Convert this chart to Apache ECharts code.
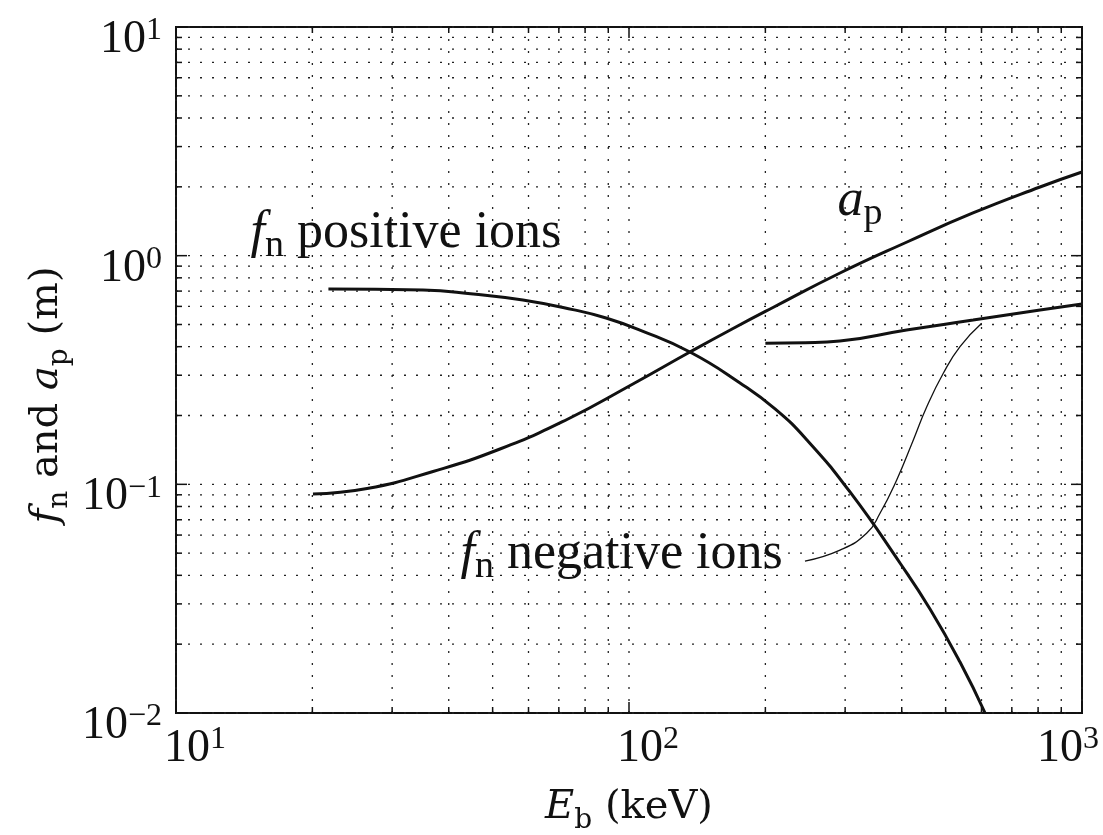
<!DOCTYPE html>
<html>
<head>
<meta charset="utf-8">
<title>f_n and a_p versus E_b</title>
<script src="https://cdn.jsdelivr.net/npm/echarts@6/dist/echarts.min.js"></script>
<style>
  html, body { margin: 0; padding: 0; background: #fff; }
  #chart { width: 1103px; height: 835px; }
</style>
</head>
<body>
<div id="chart"></div>
<script>
// values: beam energy E_b (keV) against f_n / a_p (m)
var posIonsE = [21.7, 35.1, 45.3, 58.3, 75.2, 89.0, 105.7, 136.3, 175.8, 210.1, 247.1, 307.5, 396.4, 461.8, 537.9, 611];
var posIonsF = [0.715, 0.708, 0.680, 0.640, 0.581, 0.534, 0.473, 0.379, 0.2775, 0.2136, 0.1563, 0.0926, 0.0453, 0.0285, 0.0167, 0.01];

var apE = [20.06, 26.41, 36.93, 51.9, 72.97, 102.0, 136.3, 169.7, 207.9, 292.3, 410.9, 574.6, 807.9, 1000];
var apV = [0.0908, 0.0959, 0.1138, 0.1427, 0.1921, 0.2747, 0.3791, 0.4803, 0.5934, 0.8399, 1.1475, 1.537, 1.997, 2.322];

var negIonsE = [200, 245, 292, 410, 575, 808, 1000];
var negIonsF = [0.414, 0.416, 0.423, 0.473, 0.523, 0.579, 0.615];

// thin leader line from the "negative ions" text up to its curve
var leaderE = [244.6, 292.3, 334.6, 358.2, 389.9, 424.3, 454.3, 494.1, 537.9, 600.6];
var leaderV = [0.0462, 0.0516, 0.0611, 0.0747, 0.1045, 0.1563, 0.2185, 0.306, 0.4, 0.506];

// axis ticks (log axes, decades plus 2..9 subdivisions)
var xMajor = [10, 100, 1000];
var xMinor = [20, 30, 40, 50, 60, 70, 80, 90, 200, 300, 400, 500, 600, 700, 800, 900];
var yMajor = [0.01, 0.1, 1, 10];
var yMinor = [0.02, 0.03, 0.04, 0.05, 0.06, 0.07, 0.08, 0.09,
              0.2, 0.3, 0.4, 0.5, 0.6, 0.7, 0.8, 0.9,
              2, 3, 4, 5, 6, 7, 8, 9];

var X_MIN = 10, X_MAX = 1000, Y_MIN = 0.01, Y_MAX = 10;
var SERIF = 'Liberation Serif';
var INK = '#111';

function pairs(xs, ys) {
  return xs.map(function (x, i) { return [x, ys[i]]; });
}

var dotStyle = { stroke: '#222', lineWidth: 1.3, lineDash: [2, 10] };
var tickStyle = { stroke: INK, lineWidth: 1.5 };

// vertical dotted grid lines + inward ticks on bottom/top
function xGrid(len) {
  return function (params, api) {
    var v = api.value(0);
    var b = api.coord([v, Y_MIN]);
    var t = api.coord([v, Y_MAX]);
    return {
      type: 'group',
      children: [
        { type: 'line', shape: { x1: b[0], y1: b[1], x2: t[0], y2: t[1] }, style: dotStyle },
        { type: 'line', shape: { x1: b[0], y1: b[1], x2: b[0], y2: b[1] - len }, style: tickStyle },
        { type: 'line', shape: { x1: t[0], y1: t[1], x2: t[0], y2: t[1] + len }, style: tickStyle }
      ]
    };
  };
}

// horizontal dotted grid lines + inward ticks on left/right
function yGrid(len) {
  return function (params, api) {
    var v = api.value(1);
    var l = api.coord([X_MIN, v]);
    var r = api.coord([X_MAX, v]);
    return {
      type: 'group',
      children: [
        { type: 'line', shape: { x1: l[0], y1: l[1], x2: r[0], y2: r[1] }, style: dotStyle },
        { type: 'line', shape: { x1: l[0], y1: l[1], x2: l[0] + len, y2: l[1] }, style: tickStyle },
        { type: 'line', shape: { x1: r[0], y1: r[1], x2: r[0] - len, y2: r[1] }, style: tickStyle }
      ]
    };
  };
}

function expOf(v) {
  var e = Math.round(Math.log10(v));
  return e < 0 ? '\u2212' + (-e) : String(e);
}

var tickRich = {
  b: { fontFamily: SERIF, fontSize: 46, lineHeight: 46, padding: [26, 0, 0, 0], color: INK },
  bl: { fontFamily: SERIF, fontSize: 46, lineHeight: 46, padding: [26, 0, 0, 38], color: INK },
  s: { fontFamily: SERIF, fontSize: 32, lineHeight: 32, verticalAlign: 'top', padding: [11, 0, 0, 0], color: INK },
  sr: { fontFamily: SERIF, fontSize: 32, lineHeight: 32, verticalAlign: 'top', padding: [11, 28, 0, 0], color: INK }
};

var nameFont = 'DejaVu Serif';
var nameRich = {
  i: { fontFamily: nameFont, fontStyle: 'italic', fontSize: 40, lineHeight: 40, color: INK },
  sub: { fontFamily: nameFont, fontSize: 28, lineHeight: 28, padding: [26, 0, 0, 0], color: INK }
};

var noteRich = {
  i: { fontFamily: SERIF, fontStyle: 'italic', fontSize: 52, lineHeight: 52, color: INK },
  sub: { fontFamily: SERIF, fontSize: 38, lineHeight: 38, padding: [26, 0, 0, 0], color: INK }
};

// text annotations, anchored in data space (left edge, middle)
var notes = [
  { value: [14.57, 1.256], text: '{i|f}{sub|n} positive ions' },
  { value: [287.9, 1.734], text: '{i|a}{sub|p}' },
  { value: [42.36, 0.0496], text: '{i|f}{sub|n} negative ions' }
];

var chart = echarts.init(document.getElementById('chart'));

var option = {
  animation: false,
  backgroundColor: '#fff',
  grid: {
    left: 176, right: 21, top: 27, bottom: 122,
    show: true, borderColor: INK, borderWidth: 2,
    outerBoundsMode: 'none'
  },
  xAxis: {
    type: 'log', logBase: 10, min: X_MIN, max: X_MAX,
    axisLine: { show: false }, axisTick: { show: false }, splitLine: { show: false },
    axisLabel: {
      margin: 0,
      formatter: function (v) {
        var e = Math.round(Math.log10(v));
        if (e >= 3) return '{b|10}{sr|' + expOf(v) + '}';
        return '{bl|10}{s|' + expOf(v) + '}';
      },
      rich: tickRich
    },
    name: '{i|E}{sub|b} (keV)',
    nameLocation: 'middle',
    nameGap: 75,
    nameMoveOverlap: false,
    nameTextStyle: { fontFamily: nameFont, fontSize: 40, color: INK, rich: nameRich }
  },
  yAxis: {
    type: 'log', logBase: 10, min: Y_MIN, max: Y_MAX,
    axisLine: { show: false }, axisTick: { show: false }, splitLine: { show: false },
    axisLabel: {
      margin: 14,
      formatter: function (v) { return '{b|10}{s|' + expOf(v) + '}'; },
      rich: tickRich
    },
    name: '{i|f}{sub|n} and {i|a}{sub|p} (m)',
    nameLocation: 'middle',
    nameGap: 109,
    nameMoveOverlap: false,
    nameTextStyle: { fontFamily: nameFont, fontSize: 40, color: INK, padding: [0, 50, 0, 0], rich: nameRich }
  },
  series: [
    { type: 'custom', silent: true, z: 1, renderItem: xGrid(11),
      data: xMajor.map(function (v) { return [v, Y_MIN]; }) },
    { type: 'custom', silent: true, z: 1, renderItem: xGrid(6),
      data: xMinor.map(function (v) { return [v, Y_MIN]; }) },
    { type: 'custom', silent: true, z: 1, renderItem: yGrid(11),
      data: yMajor.map(function (v) { return [X_MIN, v]; }) },
    { type: 'custom', silent: true, z: 1, renderItem: yGrid(6),
      data: yMinor.map(function (v) { return [X_MIN, v]; }) },
    {
      name: 'f_n positive ions', type: 'line', z: 5, silent: true,
      data: pairs(posIonsE, posIonsF), showSymbol: false, smooth: 0.5, clip: true,
      lineStyle: { color: INK, width: 3 }
    },
    {
      name: 'a_p', type: 'line', z: 5, silent: true,
      data: pairs(apE, apV), showSymbol: false, smooth: 0.5, clip: true,
      lineStyle: { color: INK, width: 3 }
    },
    {
      name: 'f_n negative ions', type: 'line', z: 5, silent: true,
      data: pairs(negIonsE, negIonsF), showSymbol: false, smooth: 0.5, clip: true,
      lineStyle: { color: INK, width: 3 }
    },
    {
      name: 'leader', type: 'line', z: 5, silent: true,
      data: pairs(leaderE, leaderV), showSymbol: false, smooth: 0.5, clip: true,
      lineStyle: { color: INK, width: 1.3 }
    },
    {
      name: 'notes', type: 'scatter', z: 6, silent: true,
      symbolSize: 1, itemStyle: { color: 'transparent', opacity: 1 },
      data: notes.map(function (n) { return { value: n.value, text: n.text }; }),
      label: {
        show: true, position: 'right', distance: 0,
        align: 'left', verticalAlign: 'middle',
        fontFamily: SERIF, fontSize: 52, color: INK, opacity: 1,
        formatter: function (p) { return p.data.text; },
        rich: noteRich
      }
    }
  ]
};

chart.setOption(option);
</script>
</body>
</html>
